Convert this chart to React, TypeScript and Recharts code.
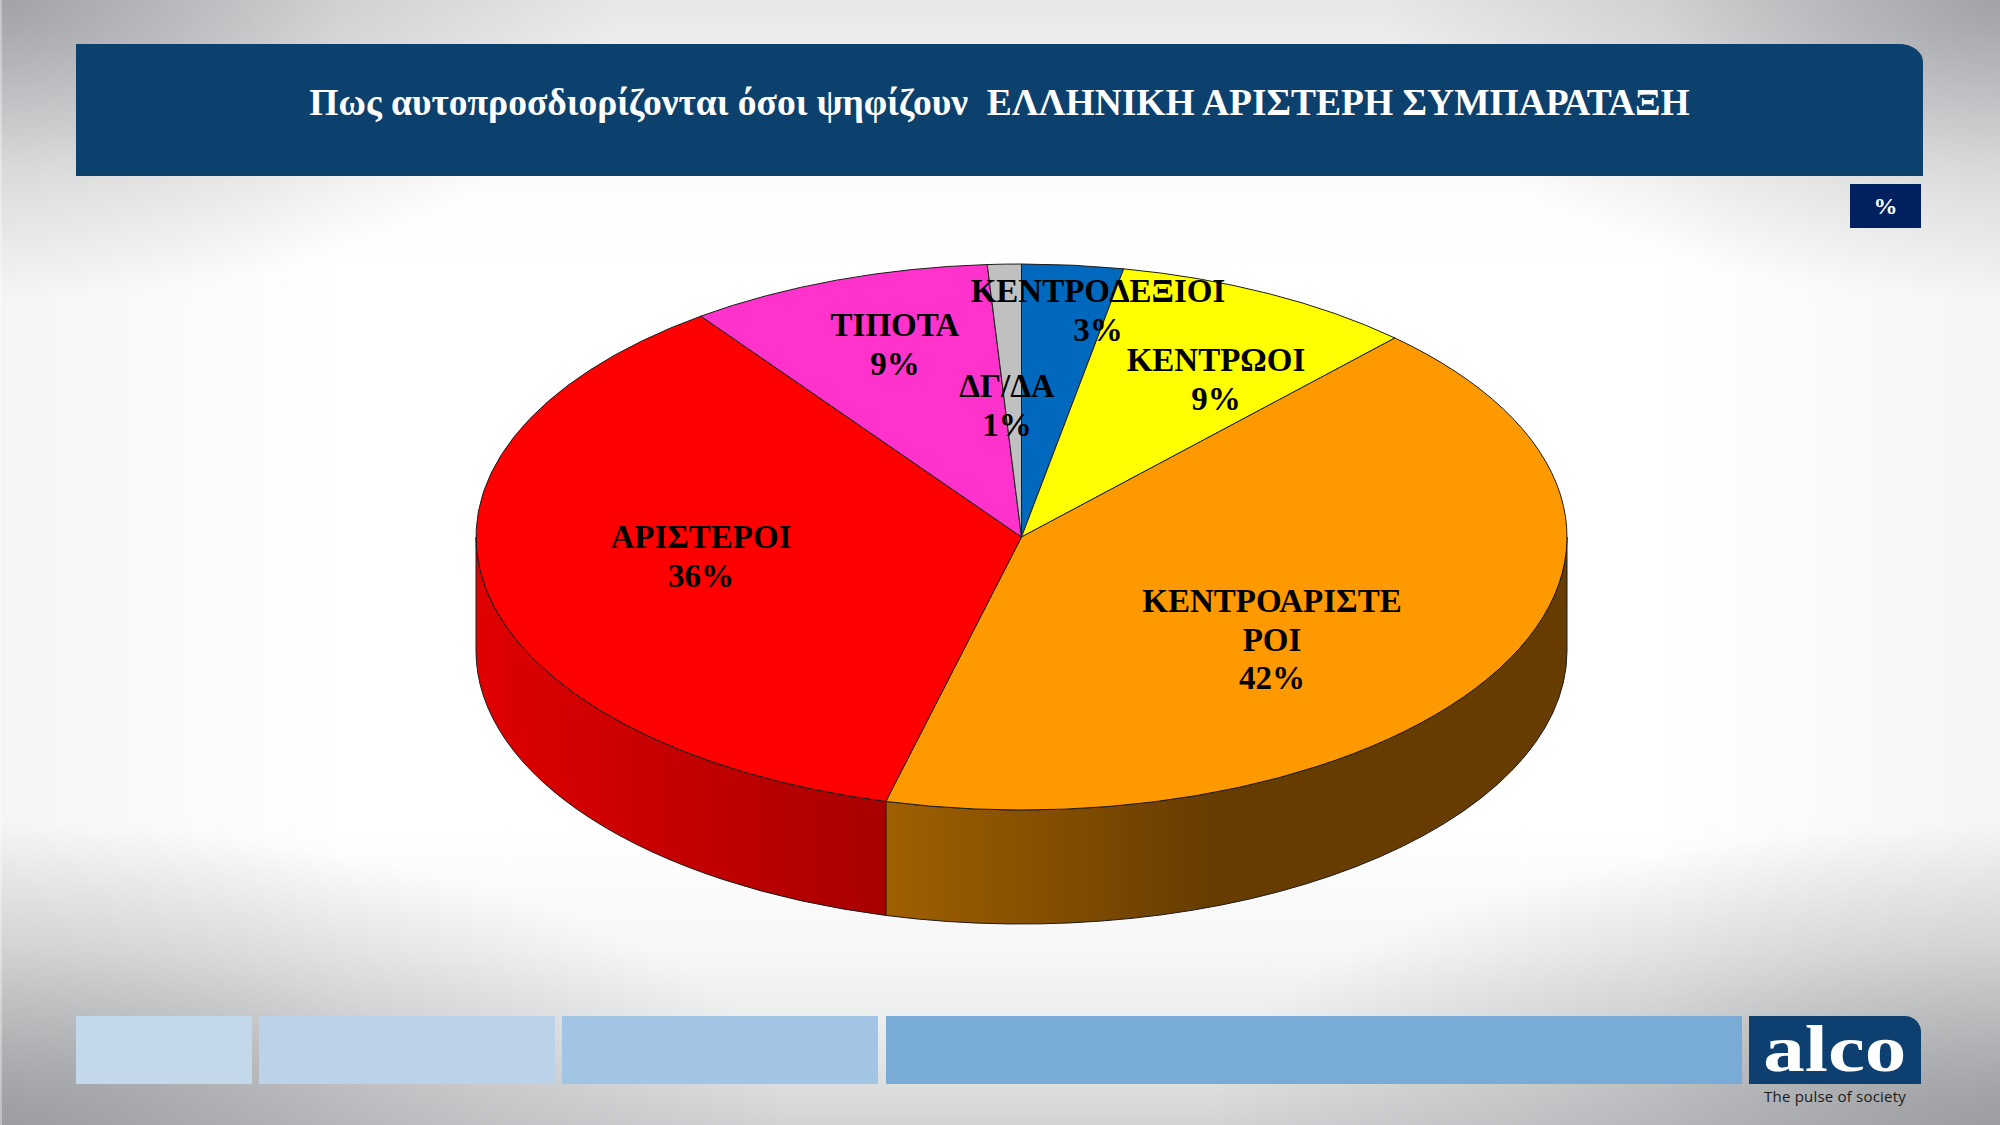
import { PieChart, Pie, Cell } from 'recharts';

const categories = ['ΚΕΝΤΡΟΔΕΞΙΟΙ', 'ΚΕΝΤΡΩΟΙ', 'ΚΕΝΤΡΟΑΡΙΣΤΕΡΟΙ', 'ΑΡΙΣΤΕΡΟΙ', 'ΤΙΠΟΤΑ', 'ΔΓ/ΔΑ'];
const shares = [3, 9, 42, 36, 9, 1];
const sliceColors = ['#0069bd', '#ffff00', '#ff9900', '#ff0000', '#ff33cc', '#c0c0c0'];

const TITLE = 'Πως αυτοπροσδιορίζονται όσοι ψηφίζουν  ΕΛΛΗΝΙΚΗ ΑΡΙΣΤΕΡΗ ΣΥΜΠΑΡΑΤΑΞΗ';

// label anchors: centre x and first baseline, same order as categories
const labelPos = [
  [1098, 302],
  [1216, 371],
  [1272, 612],
  [701, 548],
  [895, 336],
  [1007, 397],
];

// side wall shading, left to right
const wallShades: Record<string, { from: number; to: number; stops: string[] }> = {
  'ΚΕΝΤΡΟΑΡΙΣΤΕΡΟΙ': { from: 885, to: 1215, stops: ['#a06000', '#663c00'] },
  'ΑΡΙΣΤΕΡΟΙ': { from: 476, to: 885, stops: ['#e00000', '#a80000'] },
};

const footerBars = [
  { left: 76, width: 176, color: '#c3d8ea' },
  { left: 259, width: 296, color: '#bbd2e8' },
  { left: 562, width: 316, color: '#a2c5e5' },
  { left: 886, width: 856, color: '#78abd6' },
];

const tableData = categories.map((name, i) => ({ name, value: shares[i] }));

const CX = 1021.5;
const CY = 537;
const RX = 545.5;
const RY = 273;
const DEPTH = 114;
const EDGE = '#1c1c1c';
const SERIF = '"Liberation Serif", "Times New Roman", serif';

const PAGE_BG = [
  'radial-gradient(ellipse 620px 300px at 0px 0px, rgba(150,152,156,0.85), rgba(150,152,156,0.28) 55%, rgba(150,152,156,0))',
  'radial-gradient(ellipse 620px 300px at 2000px 0px, rgba(150,152,156,0.85), rgba(150,152,156,0.28) 55%, rgba(150,152,156,0))',
  'radial-gradient(ellipse 800px 300px at 0px 1125px, rgba(150,152,156,0.9), rgba(150,152,156,0.3) 60%, rgba(150,152,156,0))',
  'radial-gradient(ellipse 800px 300px at 2000px 1125px, rgba(150,152,156,0.9), rgba(150,152,156,0.3) 60%, rgba(150,152,156,0))',
  'linear-gradient(to right, rgba(0,0,0,0.04) 0px, rgba(0,0,0,0) 350px, rgba(0,0,0,0) 1650px, rgba(0,0,0,0.04) 2000px)',
  'linear-gradient(to bottom, #e6e7e8 0px, #f4f4f5 90px, #fdfdfd 190px, #ffffff 300px, #ffffff 820px, #f7f7f8 950px, #eaebeb 1030px, #d3d4d6 1125px)',
].join(', ');

const rad = (a: number) => (a * Math.PI) / 180;

function EllipseSlice(props: any) {
  const { cx, cy, outerRadius, startAngle, endAngle, fill, name } = props;
  const ry = outerRadius * (RY / RX);
  const pt = (a: number, dy = 0) => `${cx + outerRadius * Math.cos(rad(a))} ${cy - ry * Math.sin(rad(a)) + dy}`;
  const large = Math.abs(startAngle - endAngle) > 180 ? 1 : 0;

  // the wall only shows on the front half of the disc
  const hi = Math.min(startAngle, 0);
  const lo = Math.max(endAngle, -180);
  const shade = wallShades[name];
  const gradId = `wall-${props.index}`;

  return (
    <g>
      {hi > lo && shade && (
        <>
          <defs>
            <linearGradient id={gradId} gradientUnits="userSpaceOnUse" x1={shade.from} x2={shade.to} y1={0} y2={0}>
              <stop offset="0%" stopColor={shade.stops[0]} />
              <stop offset="100%" stopColor={shade.stops[1]} />
            </linearGradient>
          </defs>
          <path
            d={`M ${pt(hi)} A ${outerRadius} ${ry} 0 0 1 ${pt(lo)} L ${pt(lo, DEPTH)} A ${outerRadius} ${ry} 0 0 0 ${pt(hi, DEPTH)} Z`}
            fill={`url(#${gradId})`}
            stroke={EDGE}
            strokeWidth={1}
          />
        </>
      )}
      <path
        d={`M ${cx} ${cy} L ${pt(startAngle)} A ${outerRadius} ${ry} 0 ${large} 1 ${pt(endAngle)} Z`}
        fill={fill}
        stroke={EDGE}
        strokeWidth={1}
      />
    </g>
  );
}

function SliceLabel(props: any) {
  const { index, name, value } = props;
  const [x, y] = labelPos[index];
  // long names wrap after 12 letters, as in the slide
  const lines = name.length > 12 ? [name.slice(0, 12), name.slice(12)] : [name];
  return (
    <text x={x} y={y} textAnchor="middle" fill="#000" stroke="none" fontFamily={SERIF} fontWeight="bold" fontSize={33}>
      {[...lines, `${value}%`].map((line, i) => (
        <tspan key={i} x={x} dy={i === 0 ? 0 : 38.5}>
          {line}
        </tspan>
      ))}
    </text>
  );
}

export default function App() {
  return (
    <div
      style={{
        position: 'absolute',
        left: 0,
        top: 0,
        width: 2000,
        height: 1125,
        overflow: 'hidden',
        background: PAGE_BG,
      }}
    >
      <div style={{ position: 'absolute', left: 0, top: 0, width: 2, height: 1125, background: 'rgba(255,255,255,0.35)' }} />
      <div
        style={{
          position: 'absolute',
          left: 76,
          top: 44,
          width: 1847,
          height: 132,
          background: '#0c406d',
          borderTopRightRadius: '24px 18px',
          color: '#fff',
          fontFamily: SERIF,
          fontWeight: 'bold',
          fontSize: 37.5,
          lineHeight: '118px',
          textAlign: 'center',
          whiteSpace: 'pre',
        }}
      >
        {TITLE}
      </div>
      <div
        style={{
          position: 'absolute',
          left: 1850,
          top: 184,
          width: 71,
          height: 44,
          background: '#002060',
          color: '#fff',
          fontFamily: SERIF,
          fontWeight: 'bold',
          fontSize: 24,
          lineHeight: '44px',
          textAlign: 'center',
        }}
      >
        %
      </div>

      <div style={{ position: 'absolute', left: 0, top: 0 }}>
        <PieChart width={2000} height={1125} margin={{ top: 0, right: 0, bottom: 0, left: 0 }}>
          <Pie
            data={tableData}
            dataKey="value"
            nameKey="name"
            cx={CX}
            cy={CY}
            outerRadius={RX}
            startAngle={90}
            endAngle={-270}
            stroke={EDGE}
            shape={EllipseSlice}
            label={SliceLabel}
            labelLine={false}
            isAnimationActive={false}
          >
            {tableData.map((d, i) => (
              <Cell key={d.name} fill={sliceColors[i]} />
            ))}
          </Pie>
        </PieChart>
      </div>

      {footerBars.map((b) => (
        <div
          key={b.left}
          style={{ position: 'absolute', left: b.left, top: 1016, width: b.width, height: 68, background: b.color }}
        />
      ))}
      <div
        style={{
          position: 'absolute',
          left: 1749,
          top: 1016,
          width: 172,
          height: 68,
          background: '#0d4070',
          borderTopRightRadius: '16px',
          color: '#fff',
          fontFamily: SERIF,
          fontWeight: 'bold',
          fontSize: 66,
          lineHeight: '66px',
          textAlign: 'center',
        }}
      >
        <span style={{ display: 'inline-block', transform: 'scaleX(1.26)' }}>alco</span>
      </div>
      <div
        style={{
          position: 'absolute',
          left: 1729,
          top: 1086,
          width: 212,
          color: '#1a1a1a',
          fontFamily: '"Open Sans", sans-serif',
          fontSize: 15,
          letterSpacing: 0.2,
          lineHeight: '20px',
          textAlign: 'center',
        }}
      >
        The pulse of society
      </div>
    </div>
  );
}
